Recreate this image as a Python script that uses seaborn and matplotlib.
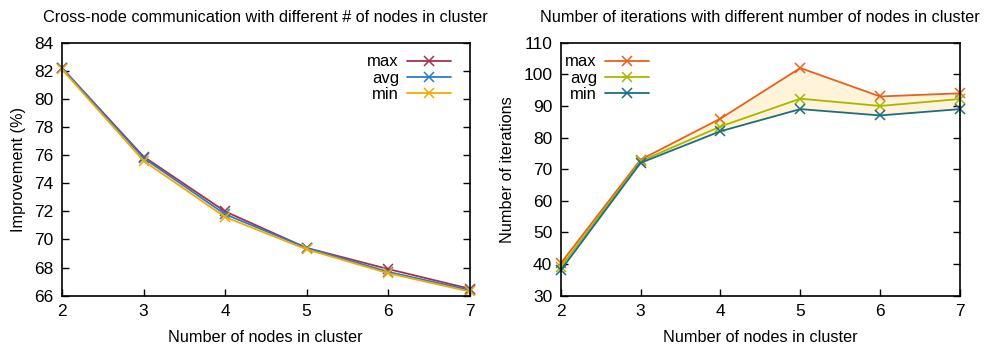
import matplotlib
matplotlib.use("Agg")
import matplotlib.pyplot as plt
import seaborn as sns
import pandas as pd
from matplotlib.lines import Line2D

nodes = [2, 3, 4, 5, 6, 7]

comm_max = [82.2, 75.9, 72.0, 69.4, 67.9, 66.5]
comm_avg = [82.2, 75.8, 71.8, 69.4, 67.7, 66.4]
comm_min = [82.1, 75.6, 71.6, 69.3, 67.6, 66.3]

iter_max = [40.2, 73.0, 86.0, 102.0, 93.0, 94.0]
iter_avg = [39.0, 72.5, 83.5, 92.3, 90.0, 92.2]
iter_min = [38.0, 72.0, 82.0, 89.0, 87.0, 89.0]

series_names = ["max", "avg", "min"]
left_colors = ["#a3324f", "#2b7cc7", "#f2aa00"]
right_colors = ["#e8611c", "#a9b600", "#1d6d80"]

sns.set_theme(style="white")
plt.rcParams["font.family"] = ["Liberation Sans", "DejaVu Sans"]
plt.rcParams["text.color"] = "black"
plt.rcParams["axes.labelcolor"] = "black"

fig = plt.figure(figsize=(9.84, 3.55), dpi=100)
W, H = 984, 355
ax1 = fig.add_axes([62 / W, 1 - 295.7 / H, (469.5 - 62) / W, (295.7 - 42.7) / H])
ax2 = fig.add_axes([560.7 / W, 1 - 295.7 / H, (960 - 560.7) / W, (295.7 - 42.7) / H])

MS = 7.5
MEW = 1.1
LW = 1.3


def draw(ax, vals, colors):
    df = pd.DataFrame({"nodes": nodes * 3,
                       "value": vals[0] + vals[1] + vals[2],
                       "series": sum([[n] * len(nodes) for n in series_names], [])})
    sns.lineplot(data=df, x="nodes", y="value", hue="series", palette=colors,
                 hue_order=series_names, marker="x", markersize=MS, markeredgewidth=MEW,
                 linewidth=LW, ax=ax, legend=False)
    for ln in ax.lines:
        ln.set_markeredgecolor(ln.get_color())
        ln.set_clip_on(False)


# right plot fill (between min and max)
ax2.fill_between(nodes, iter_min, iter_max, facecolor="#fff4d9", edgecolor="none", zorder=0)

draw(ax1, [comm_max, comm_avg, comm_min], left_colors)
draw(ax2, [iter_max, iter_avg, iter_min], right_colors)

for ax, colors, loc, bbox in [(ax1, left_colors, "upper right", (0.97, 0.98)),
                              (ax2, right_colors, "upper left", (-0.005, 0.98))]:
    handles = [Line2D([], [], color=c, marker="x", markersize=MS, markeredgewidth=MEW,
                      markeredgecolor=c, linewidth=LW) for c in colors]
    leg = ax.legend(handles, series_names, loc=loc, bbox_to_anchor=bbox, frameon=False,
                    markerfirst=False, fontsize=12, handlelength=2.6, labelspacing=0.08,
                    handletextpad=0.5, borderaxespad=0.2, borderpad=0.2)
    for t in leg.get_texts():
        t.set_ha("right")

ax1.set_xlim(2, 7)
ax1.set_ylim(66, 84)
ax1.set_yticks(range(66, 85, 2))
ax2.set_xlim(2, 7)
ax2.set_ylim(30, 110)
ax2.set_yticks(range(30, 111, 10))

ax1.set_title("Cross-node communication with different # of nodes in cluster", fontsize=11.7, pad=15)
ax2.set_title("Number of iterations with different number of nodes in cluster", fontsize=11.7, pad=15)
ax1.set_ylabel("Improvement (%)", fontsize=11.7, labelpad=6)
ax2.set_ylabel("Number of iterations", fontsize=11.7, labelpad=6)
for ax in (ax1, ax2):
    ax.set_xticks(nodes)
    ax.set_xlabel("Number of nodes in cluster", fontsize=11.7, labelpad=8)
    ax.tick_params(axis="both", direction="in", length=5, width=1, labelsize=12.5, color="black",
                   labelcolor="black", pad=6)
    ax.tick_params(axis="y", right=True, left=True)
    ax.tick_params(axis="x", bottom=True, top=False)
    for s in ax.spines.values():
        s.set_color("black")
        s.set_linewidth(1.2)
    ax.grid(False)

fig.savefig("out.png", dpi=100)
